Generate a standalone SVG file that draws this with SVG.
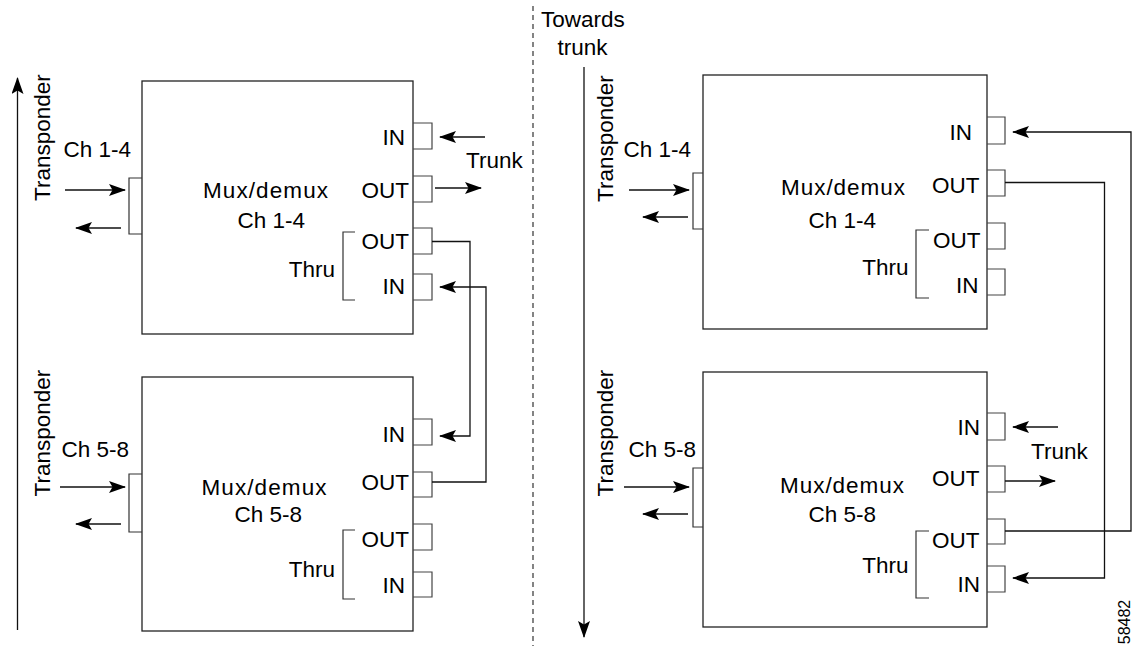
<svg xmlns="http://www.w3.org/2000/svg" width="1134" height="646" viewBox="0 0 1134 646">
<defs>
<style>
text{font-family:"Liberation Sans",Arial,sans-serif;font-size:22.5px;fill:#000}
.box{fill:#fff;stroke:#222;stroke-width:1.3}
.port{fill:none;stroke:#444;stroke-width:1.2}
.br{fill:none;stroke:#333;stroke-width:1.2}
.ln{fill:none;stroke:#111;stroke-width:1.3}
.ar{fill:none;stroke:#111;stroke-width:1.3;marker-end:url(#ah)}
.e{text-anchor:end}
.m{text-anchor:middle}
</style>
<marker id="ah" markerUnits="userSpaceOnUse" markerWidth="17" markerHeight="12" viewBox="0 0 17 12" refX="16" refY="6" orient="auto">
<path d="M0,0 L17,6 L0,12 L3.5,6 Z" fill="#000"/>
</marker>
</defs>
<rect width="1134" height="646" fill="#fff"/>

<g id="divider">
<line x1="533" y1="6" x2="533" y2="646" stroke="#333" stroke-width="1.2" stroke-dasharray="5 4"/>
<text x="541" y="27">Towards</text>
<text x="557.5" y="55">trunk</text>
</g>

<g id="transponder-axis-left">
<line class="ar" x1="17.5" y1="630" x2="17.5" y2="78"/>
<text class="m" transform="translate(50,137.5) rotate(-90)">Transponder</text>
<text class="m" transform="translate(50,433) rotate(-90)">Transponder</text>
</g>

<g id="transponder-axis-right">
<line class="ar" x1="584" y1="67" x2="584" y2="637"/>
<text class="m" transform="translate(613,138.5) rotate(-90)">Transponder</text>
<text class="m" transform="translate(613,433) rotate(-90)">Transponder</text>
</g>

<g id="mux-left-1-4">
<rect class="box" x="142" y="81" width="271" height="253"/>
<path class="br" d="M142,178 H129 V234 H142"/>
<text x="63.5" y="157">Ch 1-4</text>
<text x="203" y="198" textLength="125" lengthAdjust="spacing">Mux/demux</text>
<text x="237.5" y="228">Ch 1-4</text>
<path class="port" d="M413,123 H432 V149 H413 M413,176 H432 V202 H413 M413,228 H432 V254 H413 M413,274 H432 V300 H413"/>
<text class="e" x="405" y="145">IN</text>
<text class="e" x="409" y="198">OUT</text>
<text class="e" x="409" y="249">OUT</text>
<text class="e" x="405" y="294">IN</text>
<path class="br" d="M355,232 H343 V300 H355"/>
<text class="e" x="335" y="277">Thru</text>
<text x="466" y="168">Trunk</text>
</g>

<g id="mux-left-5-8">
<rect class="box" x="142" y="377" width="271" height="254"/>
<path class="br" d="M142,474 H129 V532 H142"/>
<text x="61.5" y="457">Ch 5-8</text>
<text x="201.5" y="495" textLength="125" lengthAdjust="spacing">Mux/demux</text>
<text x="234.5" y="522">Ch 5-8</text>
<path class="port" d="M413,419 H432 V445 H413 M413,472 H432 V497 H413 M413,524 H432 V550 H413 M413,572 H432 V597 H413"/>
<text class="e" x="405" y="442">IN</text>
<text class="e" x="409" y="490">OUT</text>
<text class="e" x="409" y="547">OUT</text>
<text class="e" x="405" y="593">IN</text>
<path class="br" d="M355,530 H343 V599 H355"/>
<text class="e" x="335" y="577">Thru</text>
</g>

<g id="mux-right-1-4">
<rect class="box" x="703" y="75" width="284" height="254"/>
<path class="br" d="M703,173 H693 V229 H703"/>
<text x="623.5" y="157">Ch 1-4</text>
<text x="781" y="195" textLength="124" lengthAdjust="spacing">Mux/demux</text>
<text x="808.5" y="228">Ch 1-4</text>
<path class="port" d="M987,117 H1005 V144 H987 M987,170 H1005 V196 H987 M987,223 H1005 V249 H987 M987,269 H1005 V295 H987"/>
<text class="e" x="972" y="140">IN</text>
<text class="e" x="979.5" y="193">OUT</text>
<text class="e" x="980.5" y="248">OUT</text>
<text class="e" x="978.5" y="293">IN</text>
<path class="br" d="M929,230 H916 V298 H929"/>
<text class="e" x="908.5" y="275">Thru</text>
</g>

<g id="mux-right-5-8">
<rect class="box" x="703" y="372" width="284" height="255"/>
<path class="br" d="M703,468 H693 V527 H703"/>
<text x="628.5" y="457">Ch 5-8</text>
<text x="780" y="493" textLength="124" lengthAdjust="spacing">Mux/demux</text>
<text x="808.5" y="522">Ch 5-8</text>
<path class="port" d="M987,413 H1005 V440 H987 M987,466 H1005 V492 H987 M987,519 H1005 V544 H987 M987,566 H1005 V592 H987"/>
<text class="e" x="980" y="435">IN</text>
<text class="e" x="979.5" y="486">OUT</text>
<text class="e" x="979.5" y="548">OUT</text>
<text class="e" x="980" y="592">IN</text>
<path class="br" d="M929,531 H916 V598 H929"/>
<text class="e" x="908.5" y="573">Thru</text>
<text x="1031" y="459">Trunk</text>
</g>

<g id="connectors">
<line class="ar" x1="65" y1="190" x2="125" y2="190"/>
<line class="ar" x1="121" y1="228" x2="76" y2="228"/>
<line class="ar" x1="60" y1="487" x2="125" y2="487"/>
<line class="ar" x1="121" y1="524" x2="76" y2="524"/>
<line class="ar" x1="485" y1="137" x2="440" y2="137"/>
<line class="ar" x1="435" y1="188" x2="481" y2="188"/>
<path class="ar" d="M432,241.5 H470 V436 H440"/>
<path class="ar" d="M432,482 H486 V287 H440"/>
<line class="ar" x1="629" y1="190" x2="689" y2="190"/>
<line class="ar" x1="688" y1="217" x2="643" y2="217"/>
<line class="ar" x1="624" y1="487" x2="689" y2="487"/>
<line class="ar" x1="688" y1="514" x2="643" y2="514"/>
<line class="ar" x1="1058" y1="427" x2="1013" y2="427"/>
<line class="ar" x1="1005" y1="481" x2="1055" y2="481"/>
<path class="ar" d="M1005,182.5 H1104.5 V578 H1013"/>
<path class="ar" d="M1005,531 H1131 V132 H1013"/>
</g>

<text transform="translate(1130,622) rotate(-90)" class="m" style="font-size:16px">58482</text>
</svg>
